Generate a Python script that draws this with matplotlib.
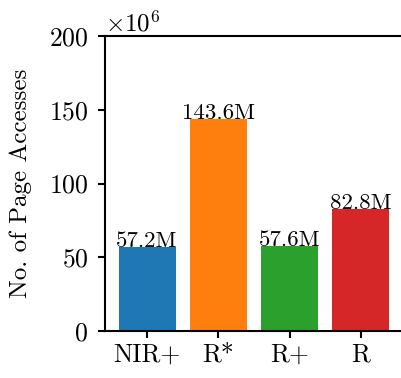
import matplotlib
matplotlib.use("Agg")
from matplotlib import pyplot as plt
import numpy as np

plt.rcParams['font.family'] = 'serif'
plt.rcParams['font.serif'] = ['cmr10']
plt.rcParams['mathtext.fontset'] = 'cm'
plt.rcParams['axes.formatter.use_mathtext'] = True
plt.rcParams['axes.unicode_minus'] = False

methods = ["NIR+", "R*", "R+", "R"]
accesses = [57.2e6, 143.6e6, 57.6e6, 82.8e6]
colors = ["#1f77b4", "#ff7f0e", "#2ca02c", "#d62728"]

fig = plt.figure(figsize=(4.01, 3.78), dpi=100)
ax = fig.add_axes([105/401, 47/378, 298/401, 295/378])

x = np.arange(len(methods))
bars = ax.bar(x, accesses, width=0.8, color=colors)
for b, v in zip(bars, accesses):
    ax.text(b.get_x() + b.get_width()/2, v, "%.1fM" % (v/1e6),
            ha="center", va="baseline", fontsize=16.5)

ax.set_ylim(0, 200e6)
ax.set_yticks([0, 50e6, 100e6, 150e6, 200e6])
ax.ticklabel_format(axis='y', style='sci', scilimits=(6, 6))
ax.set_xticks(x)
ax.set_xticklabels(methods)
ax.set_ylabel("No. of Page Accesses", fontsize=18, labelpad=12)
ax.tick_params(labelsize=18.5, width=1.5, length=5)
ax.tick_params(axis='y', pad=7)
ax.yaxis.get_offset_text().set_fontsize(18)
ax.spines['right'].set_visible(False)
for s in ['left', 'bottom', 'top']:
    ax.spines[s].set_linewidth(1.5)

fig.savefig("out.png", dpi=100)
